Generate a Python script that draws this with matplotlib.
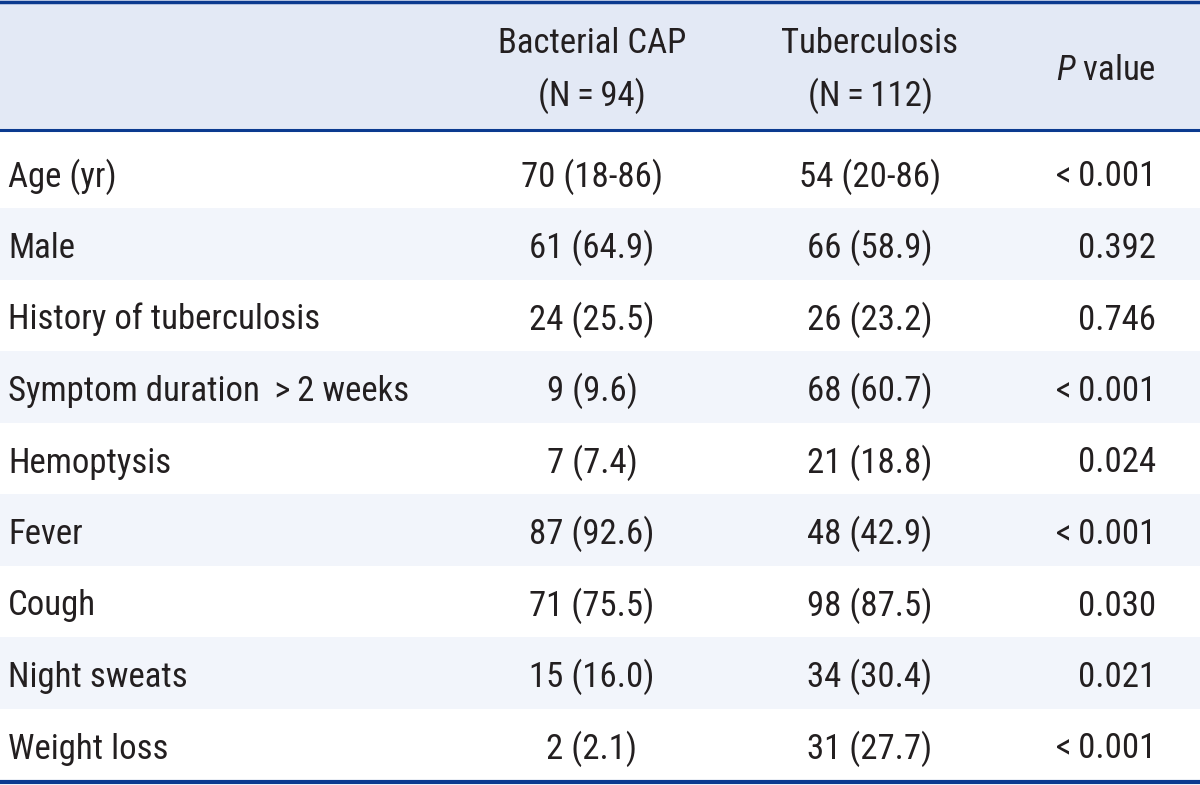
import matplotlib
matplotlib.use("Agg")
import matplotlib.pyplot as plt
from matplotlib import font_manager

# table contents
col_titles = ["Bacterial CAP", "Tuberculosis"]
col_counts = ["(N\u2009=\u200994)", "(N\u2009=\u2009112)"]
row_labels = ["Age (yr)", "Male", "History of tuberculosis",
              "Symptom duration \u2009>\u20092 weeks", "Hemoptysis", "Fever", "Cough",
              "Night sweats", "Weight loss"]
cap_values = ["70 (18-86)", "61 (64.9)", "24 (25.5)", "9 (9.6)", "7 (7.4)",
              "87 (92.6)", "71 (75.5)", "15 (16.0)", "2 (2.1)"]
tb_values = ["54 (20-86)", "66 (58.9)", "26 (23.2)", "68 (60.7)", "21 (18.8)",
             "48 (42.9)", "98 (87.5)", "34 (30.4)", "31 (27.7)"]
p_values = ["<\u20090.001", "0.392", "0.746", "<\u20090.001", "0.024", "<\u20090.001",
            "0.030", "0.021", "<\u20090.001"]

names = {f.name for f in font_manager.fontManager.ttflist}
fam = [n for n in ["Roboto Condensed", "Liberation Sans Narrow", "DejaVu Sans"] if n in names]
plt.rcParams['font.family'] = fam
plt.rcParams['mathtext.fontset'] = 'custom'
plt.rcParams['mathtext.it'] = fam[0] + ':italic'
plt.rcParams['mathtext.rm'] = fam[0]

W, H = 1200, 785
fig = plt.figure(figsize=(12, 7.85), dpi=100)
ax = fig.add_axes([0, 0, 1, 1])
ax.set_xlim(0, W)
ax.set_ylim(H, 0)
ax.axis('off')

navy = "#0b3a8f"
head_bg = "#e3e9f5"
stripe = "#f2f5fb"
txt = "#231f20"
fs = 25

head_h = 130
body_top = 136.5
row_h = 71.5
n = len(row_labels)

ax.axhspan(0, head_h, color=head_bg, lw=0)
for i in range(1, n, 2):
    y0 = body_top + i * row_h
    ax.axhspan(y0, y0 + row_h, color=stripe, lw=0)
ax.axhline(1.5, color=navy, lw=2.5)
ax.axhline(head_h, color=navy, lw=2.2)
ax.axhline(body_top + n * row_h + 1.5, color=navy, lw=3)

x_lab, x_cap, x_tb, x_p = 8, 592, 870, 1156
kw = dict(va='baseline', fontsize=fs, color=txt)

# header
for x, t, c in zip([x_cap, x_tb], col_titles, col_counts):
    ax.text(x, 53, t, ha='center', **kw)
    ax.text(x, 106, c, ha='center', **kw)
ax.text(x_p, 80, r"$\it{P}$ value", ha='right', **kw)

# body
for i, lab in enumerate(row_labels):
    yb = body_top + i * row_h + 50
    ax.text(x_lab, yb, lab, ha='left', **kw)
    ax.text(x_cap, yb, cap_values[i], ha='center', **kw)
    ax.text(x_tb, yb, tb_values[i], ha='center', **kw)
    ax.text(x_p, yb, p_values[i], ha='right', **kw)

fig.savefig("out.png", dpi=100)
